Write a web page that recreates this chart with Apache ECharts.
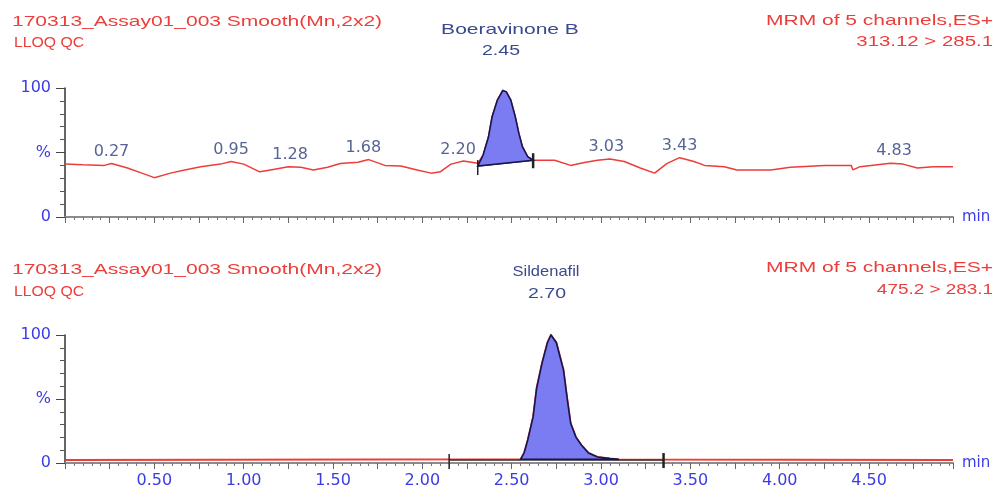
<!DOCTYPE html>
<html>
<head>
<meta charset="utf-8">
<script src="https://cdn.jsdelivr.net/npm/echarts@6/dist/echarts.min.js"></script>
<style>
  html, body { margin: 0; padding: 0; background: #fff; }
  #chart { width: 999px; height: 493px; }
</style>
</head>
<body>
<div id="chart"></div>
<script>
// top trace: Boeravinone B, 313.12 > 285.1
var topTime = [0.00, 0.10, 0.22, 0.26, 0.35, 0.43, 0.50, 0.59, 0.67, 0.76, 0.87, 0.93, 1.00, 1.09, 1.15,
  1.25, 1.32, 1.39, 1.47, 1.54, 1.64, 1.70, 1.79, 1.88, 1.97, 2.05, 2.10, 2.16, 2.23, 2.31,
  2.34, 2.37, 2.39, 2.42, 2.45, 2.47, 2.495, 2.52, 2.54, 2.56, 2.59, 2.62,
  2.74, 2.83, 2.90, 2.98, 3.05, 3.13, 3.22, 3.30, 3.37, 3.44, 3.52, 3.58, 3.69, 3.76, 3.95,
  4.06, 4.25, 4.40, 4.41, 4.45, 4.62, 4.69, 4.77, 4.86, 4.97];
var topSignal = [41, 40.5, 40, 41.5, 38, 34, 30.5, 34, 36.5, 39, 41, 43, 41, 35, 36.5,
  39, 38.5, 36.5, 38.5, 41.5, 42.5, 44.5, 40, 39.5, 36.5, 34, 35, 41, 43.4, 41.6,
  48, 62, 77.5, 90.7, 98, 97, 90.7, 77.7, 65, 54.5, 46.7, 44,
  44, 40, 42, 44, 45, 43, 38, 34, 41.6, 46, 43, 40, 39, 36.5, 36.5,
  38.5, 40, 40, 36.5, 39, 41.6, 41, 38, 39, 39];

// integrated peak (top)
var topPeakTime = [2.31, 2.34, 2.37, 2.39, 2.42, 2.45, 2.47, 2.495, 2.52, 2.54, 2.56, 2.59, 2.62];
var topPeakSignal = [39.5, 48, 62, 77.5, 90.7, 98, 97, 90.7, 77.7, 65, 54.5, 46.7, 44];
var topWindowTime = [2.31, 2.62];
var topWindowLevel = [39.5, 44];

// peak retention-time labels on the top trace
var topLabelTime = [0.26, 0.93, 1.26, 1.67, 2.20, 3.03, 3.44, 4.64];
var topLabelLevel = [41.5, 43, 39, 44, 43, 45, 46, 41.6];
var topLabelText = ['0.27', '0.95', '1.28', '1.68', '2.20', '3.03', '3.43', '4.83'];

// bottom trace: Sildenafil, 475.2 > 283.1
var bottomTime = [0.00, 2.55, 2.57, 2.59, 2.62, 2.64, 2.67, 2.70, 2.72, 2.75, 2.79, 2.81, 2.83,
  2.86, 2.89, 2.93, 2.98, 3.05, 3.10, 4.97];
var bottomSignal = [2.3, 2.9, 8, 18, 36, 58.6, 78, 94, 100, 94, 72.6, 50.8, 31,
  20, 14, 7.8, 4.7, 3.5, 2.8, 2.3];
var bottomPeakTime = bottomTime.slice(1, 19);
var bottomPeakSignal = bottomSignal.slice(1, 19);
var bottomWindowTime = [2.15, 3.35];
var bottomWindowLevel = [2.3, 2.3];

// tick labels
var xLabelValues = [0.5, 1.0, 1.5, 2.0, 2.5, 3.0, 3.5, 4.0, 4.5];
var xLabelText = ['0.50', '1.00', '1.50', '2.00', '2.50', '3.00', '3.50', '4.00', '4.50'];
var yLabelValues = [0, 50, 100];
var yLabelText = ['0', '%', '100'];

var blue = '#3c3ce6';
var red = '#ec3d3a';

function pairs(xs, ys) {
  return xs.map(function (x, i) { return [x, ys[i]]; });
}

function pickLabel(values, texts) {
  return function (v) {
    for (var i = 0; i < values.length; i++) {
      if (Math.abs(values[i] - v) < 1e-6) return texts[i];
    }
    return '';
  };
}

function xAxisFor(gridIndex, showLabels, offset) {
  return {
    type: 'value', gridIndex: gridIndex, min: 0, max: 4.97, interval: 0.25,
    offset: offset,
    axisLine: { lineStyle: { color: '#8c8c8c', width: 2 } },
    axisTick: { length: 6, lineStyle: { color: '#666' } },
    minorTick: { show: true, splitNumber: 5, length: 3, lineStyle: { color: '#777' } },
    splitLine: { show: false },
    axisLabel: {
      show: showLabels, formatter: pickLabel(xLabelValues, xLabelText),
      color: blue, fontSize: 16, fontFamily: 'DejaVu Sans', margin: 8,
      showMinLabel: false, showMaxLabel: false
    },
    name: 'min', nameLocation: 'end', nameGap: 9,
    nameTextStyle: { color: blue, fontSize: 15, fontFamily: 'DejaVu Sans', verticalAlign: 'middle' }
  };
}

function yAxisFor(gridIndex) {
  return {
    type: 'value', gridIndex: gridIndex, min: 0, max: 100, interval: 50,
    axisLine: { show: true, lineStyle: { color: '#333', width: 1.5 } },
    axisTick: { show: true, length: 9, lineStyle: { color: '#444' } },
    minorTick: { show: true, splitNumber: 5, length: 5, lineStyle: { color: '#555' } },
    splitLine: { show: false },
    axisLabel: {
      formatter: pickLabel(yLabelValues, yLabelText),
      color: blue, fontSize: 16, fontFamily: 'DejaVu Sans', margin: 14
    }
  };
}

// draws the integrated peak, its baseline and the start/end markers
function peakRenderer(pTime, pSig, wTime, wLevel) {
  return function (params, api) {
    var pts = pTime.map(function (t, i) { return api.coord([t, pSig[i]]); });
    var a = api.coord([wTime[0], wLevel[0]]);
    var b = api.coord([wTime[1], wLevel[1]]);
    return {
      type: 'group',
      children: [
        { type: 'line', shape: { x1: a[0], y1: a[1], x2: b[0], y2: b[1] },
          style: { stroke: '#3a3a3a', lineWidth: 1.5 } },
        { type: 'polygon', shape: { points: pts },
          style: { fill: '#7b7bf2', stroke: '#16164e', lineWidth: 1.6 } },
        { type: 'line', shape: { x1: a[0], y1: a[1] - 6, x2: a[0], y2: a[1] + 9 },
          style: { stroke: '#222', lineWidth: 1.5 } },
        { type: 'line', shape: { x1: b[0], y1: b[1] - 7, x2: b[0], y2: b[1] + 8 },
          style: { stroke: '#222', lineWidth: 2.5 } }
      ]
    };
  };
}

function headerText(x, y, text, color, sx, align) {
  return {
    type: 'text', x: x, y: y, scaleX: sx, silent: true,
    style: {
      text: text, font: '15px "Liberation Sans"', fill: color,
      textAlign: align, align: align, textVerticalAlign: 'middle', verticalAlign: 'middle'
    }
  };
}

var myChart = echarts.init(document.getElementById('chart'));

var option = {
  animation: false,
  backgroundColor: '#ffffff',
  grid: [
    { left: 65, right: 46, top: 88, height: 129 },
    { left: 65, right: 46, top: 335, height: 128 }
  ],
  xAxis: [xAxisFor(0, false, 3), xAxisFor(1, true, 2)],
  yAxis: [yAxisFor(0), yAxisFor(1)],
  graphic: [
    headerText(12, 22, '170313_Assay01_003 Smooth(Mn,2x2)', red, 1.4, 'left'),
    headerText(14, 43, 'LLOQ QC', red, 1.05, 'left'),
    headerText(510, 30, 'Boeravinone B', '#3a4a8c', 1.4, 'center'),
    headerText(501, 51, '2.45', '#3a4a8c', 1.3, 'center'),
    headerText(993, 21, 'MRM of 5 channels,ES+', red, 1.4, 'right'),
    headerText(993, 42, '313.12 > 285.1', red, 1.36, 'right'),
    headerText(12, 270, '170313_Assay01_003 Smooth(Mn,2x2)', red, 1.4, 'left'),
    headerText(14, 292, 'LLOQ QC', red, 1.05, 'left'),
    headerText(546, 272, 'Sildenafil', '#3a4a8c', 1.1, 'center'),
    headerText(547, 294, '2.70', '#3a4a8c', 1.3, 'center'),
    headerText(993, 268, 'MRM of 5 channels,ES+', red, 1.4, 'right'),
    headerText(993, 290, '475.2 > 283.1', red, 1.26, 'right')
  ],
  series: [
    {
      type: 'line', xAxisIndex: 0, yAxisIndex: 0, data: pairs(topTime, topSignal),
      showSymbol: false, lineStyle: { color: red, width: 1.5 }, z: 2
    },
    {
      type: 'custom', xAxisIndex: 0, yAxisIndex: 0, data: [[topWindowTime[0], topWindowLevel[0]]],
      renderItem: peakRenderer(topPeakTime, topPeakSignal, topWindowTime, topWindowLevel), z: 3
    },
    {
      type: 'scatter', xAxisIndex: 0, yAxisIndex: 0, symbolSize: 0, silent: true,
      data: topLabelTime.map(function (t, i) { return [t, topLabelLevel[i], topLabelText[i]]; }),
      label: {
        show: true, position: 'top', distance: 4,
        formatter: function (p) { return p.value[2]; },
        color: '#2c3c78', fontSize: 16, fontFamily: 'DejaVu Sans'
      },
      z: 4
    },
    {
      type: 'line', xAxisIndex: 1, yAxisIndex: 1, data: pairs(bottomTime, bottomSignal),
      showSymbol: false, lineStyle: { color: red, width: 2 }, z: 2
    },
    {
      type: 'custom', xAxisIndex: 1, yAxisIndex: 1, data: [[bottomWindowTime[0], bottomWindowLevel[0]]],
      renderItem: peakRenderer(bottomPeakTime, bottomPeakSignal, bottomWindowTime, bottomWindowLevel), z: 3
    }
  ]
};

myChart.setOption(option);
</script>
</body>
</html>
